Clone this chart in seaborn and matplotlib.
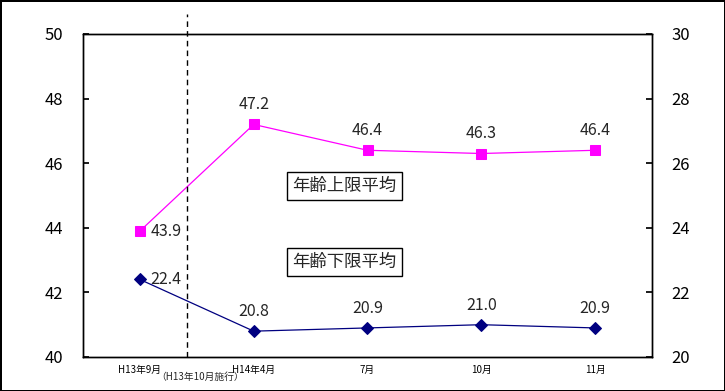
import matplotlib
matplotlib.use("Agg")
import matplotlib.pyplot as plt
import seaborn as sns
import pandas as pd

sns.set_theme(style="white")
plt.rcParams['font.family'] = ['Noto Sans CJK JP', 'DejaVu Sans']

categories = ["H13年9月", "H14年4月", "7月", "10月", "11月"]
upper_avg = [43.9, 47.2, 46.4, 46.3, 46.4]
lower_avg = [22.4, 20.8, 20.9, 21.0, 20.9]
upper_label = "年齢上限平均"
lower_label = "年齢下限平均"
note_label = "（H13年10月施行）"
left_ticks = [40, 42, 44, 46, 48, 50]
right_ticks = [20, 22, 24, 26, 28, 30]

df = pd.DataFrame({"x": range(len(categories)), "upper": upper_avg, "lower": lower_avg})

fig = plt.figure(figsize=(7.25, 3.91), dpi=100)
fig.patch.set_facecolor("white")
fig.patch.set_edgecolor("black")
fig.patch.set_linewidth(2)
ax = fig.add_axes([83/725, 1-357/391, (652-83)/725, (357-34)/391])
ax2 = ax.twinx()

sns.lineplot(data=df, x="x", y="upper", ax=ax, color="#ff00ff", marker="s",
             markersize=6.5, markeredgecolor="#ff00ff", linewidth=0.9)
sns.lineplot(data=df, x="x", y="lower", ax=ax2, color="#000080", marker="D",
             markersize=6, markeredgecolor="#000080", linewidth=0.9)

ax.set_xlim(-0.5, len(categories) - 0.5)
ax.set_ylim(40, 50)
ax2.set_ylim(20, 30)
ax.set_yticks(left_ticks)
ax2.set_yticks(right_ticks)
ax.set_xticks(range(len(categories)))
ax.set_xticklabels(categories, fontsize=7)
ax.set_xlabel("")
ax.set_ylabel("")
ax2.set_ylabel("")
for a in (ax, ax2):
    for s in a.spines.values():
        s.set_color("black")
        s.set_linewidth(1)
ax.tick_params(axis="y", direction="in", length=4, labelsize=12, pad=14, colors="black")
ax2.tick_params(axis="y", direction="in", length=4, labelsize=12, pad=14, colors="black")
ax.tick_params(axis="x", length=0, pad=6, colors="black")

# dashed separator
ax.axvline(0.414, ymin=0, ymax=1.062, color="black", linestyle=(0, (4, 3)),
           linewidth=1, clip_on=False)
ax.text(0.53, -0.063, note_label, transform=ax.get_xaxis_transform(),
        ha="center", va="center", fontsize=7)

# value labels
for i, v in enumerate(upper_avg):
    if i == 0:
        ax.text(i + 0.09, v, f"{v:.1f}", ha="left", va="center", fontsize=11.5)
    else:
        ax.annotate(f"{v:.1f}", (i, v), xytext=(0, 8), textcoords="offset points",
                    ha="center", va="bottom", fontsize=11.5)
for i, v in enumerate(lower_avg):
    if i == 0:
        ax2.text(i + 0.09, v, f"{v:.1f}", ha="left", va="center", fontsize=11.5)
    else:
        ax2.annotate(f"{v:.1f}", (i, v), xytext=(0, 8), textcoords="offset points",
                     ha="center", va="bottom", fontsize=11.5)

box = dict(boxstyle="square,pad=0.3", facecolor="white", edgecolor="black", linewidth=1)
ax.text(1.8, 45.3, upper_label, ha="center", va="center", fontsize=12.5, bbox=box)
ax.text(1.8, 42.95, lower_label, ha="center", va="center", fontsize=12.5, bbox=box)

fig.savefig("out.png", dpi=100, facecolor=fig.get_facecolor(), edgecolor=fig.get_edgecolor())
